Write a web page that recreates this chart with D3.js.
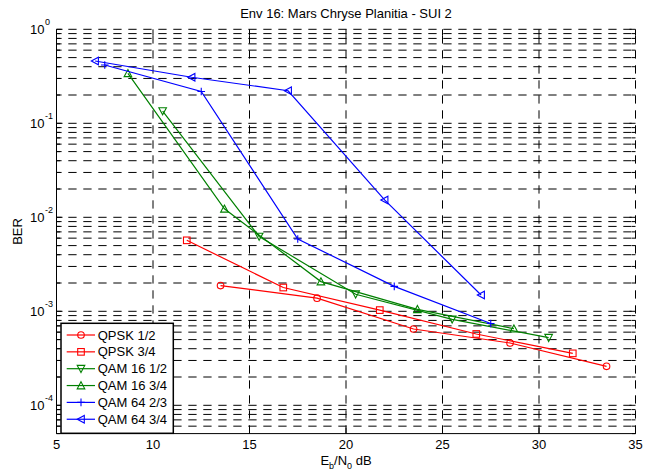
<!DOCTYPE html>
<html>
<head>
<meta charset="utf-8">
<script src="https://cdn.jsdelivr.net/npm/d3@7"></script>
<style>
  html, body { margin: 0; padding: 0; background: #fff; }
  svg { display: block; font-family: "Liberation Sans", Arial, sans-serif; }
</style>
</head>
<body>
<svg id="chart" width="657" height="472"></svg>
<script>
// BER curves per modulation / coding rate
const seriesNames = ["QPSK 1/2", "QPSK 3/4", "QAM 16 1/2", "QAM 16 3/4", "QAM 64 2/3", "QAM 64 3/4"];
const seriesColors = ["#ff0000", "#ff0000", "#008000", "#008000", "#0000ff", "#0000ff"];
const seriesMarkers = ["circle", "square", "triangleDown", "triangleUp", "plus", "triangleLeft"];

const qpsk12Eb = [13.5, 18.5, 23.5, 28.5, 33.5];
const qpsk12Ber = [0.00188, 0.00138, 0.000648, 0.00046, 0.00026];
const qpsk34Eb = [11.75, 16.75, 21.75, 26.75, 31.75];
const qpsk34Ber = [0.00569, 0.00179, 0.00103, 0.000574, 0.000357];
const qam16r12Eb = [10.5, 15.5, 20.5, 25.5, 30.5];
const qam16r12Ber = [0.135, 0.00625, 0.00152, 0.000822, 0.000524];
const qam16r34Eb = [8.7, 13.7, 18.7, 23.7, 28.7];
const qam16r34Ber = [0.34, 0.0123, 0.00207, 0.00105, 0.000653];
const qam64r23Eb = [7.5, 12.5, 17.5, 22.5, 27.5];
const qam64r23Ber = [0.417, 0.218, 0.00588, 0.00184, 0.000742];
const qam64r34Eb = [7, 12, 17, 22, 27];
const qam64r34Ber = [0.46, 0.309, 0.222, 0.0153, 0.00149];

const xTicks = [5, 10, 15, 20, 25, 30, 35];
const yTickExponents = [0, -1, -2, -3, -4];
const xDomain = [5, 35];
const yDomain = [5e-5, 1];

const titleText = "Env 16: Mars Chryse Planitia - SUI 2";

const seriesEb = [qpsk12Eb, qpsk34Eb, qam16r12Eb, qam16r34Eb, qam64r23Eb, qam64r34Eb];
const seriesBer = [qpsk12Ber, qpsk34Ber, qam16r12Ber, qam16r34Ber, qam64r23Ber, qam64r34Ber];
const series = seriesNames.map((name, i) => ({
  name, color: seriesColors[i], marker: seriesMarkers[i],
  points: seriesEb[i].map((e, j) => ({ eb: e, ber: seriesBer[i][j] }))
}));

const svg = d3.select("#chart");
const plot = { left: 56.5, right: 635.5, top: 29.3, bottom: 433.6 };

const x = d3.scaleLinear().domain(xDomain).range([plot.left, plot.right]);
const y = d3.scaleLog().domain(yDomain).range([plot.bottom, plot.top]);

// every y grid value: 1..9 multiples of each decade inside the domain
const yGrid = [];
for (let e = -5; e <= 0; e++) {
  for (let m = 1; m <= 9; m++) {
    const v = m * Math.pow(10, e);
    if (v >= yDomain[0] * 0.999 && v <= yDomain[1] * 1.001) yGrid.push(v);
  }
}
const isMajor = v => Math.abs(Math.log10(v) - Math.round(Math.log10(v))) < 1e-9;

// dashed grid
const grid = svg.append("g").attr("stroke", "#000").attr("stroke-width", 1).attr("fill", "none");
grid.selectAll("line.h").data(yGrid.filter(v => v > yDomain[0] * 1.001)).join("line")
  .attr("class", "h")
  .attr("stroke-dasharray", "8.3,6.7").attr("stroke-dashoffset", 3.2)
  .attr("x1", plot.left).attr("x2", plot.right)
  .attr("y1", d => y(d)).attr("y2", d => y(d));
grid.selectAll("line.v").data(xTicks.filter(t => t > xDomain[0])).join("line")
  .attr("class", "v")
  .attr("stroke-dasharray", "8.3,6.7")
  .attr("x1", d => x(d)).attr("x2", d => x(d))
  .attr("y1", plot.bottom).attr("y2", plot.top);

// ticks: inward on all four sides
const ticks = svg.append("g").attr("stroke", "#000").attr("stroke-width", 1);
yGrid.forEach(v => {
  const len = isMajor(v) ? 6 : 3.5;
  ticks.append("line").attr("x1", plot.left).attr("x2", plot.left + len).attr("y1", y(v)).attr("y2", y(v));
  ticks.append("line").attr("x1", plot.right).attr("x2", plot.right - len).attr("y1", y(v)).attr("y2", y(v));
});
xTicks.forEach(t => {
  ticks.append("line").attr("x1", x(t)).attr("x2", x(t)).attr("y1", plot.bottom).attr("y2", plot.bottom - 6);
  ticks.append("line").attr("x1", x(t)).attr("x2", x(t)).attr("y1", plot.top).attr("y2", plot.top + 6);
});

// solid left and bottom axis lines
svg.append("line").attr("x1", plot.left).attr("x2", plot.left).attr("y1", plot.top).attr("y2", plot.bottom)
  .attr("stroke", "#000").attr("stroke-width", 1);
svg.append("line").attr("x1", plot.left).attr("x2", plot.right).attr("y1", plot.bottom).attr("y2", plot.bottom)
  .attr("stroke", "#000").attr("stroke-width", 1);

// x tick labels
svg.append("g").selectAll("text").data(xTicks).join("text")
  .attr("x", d => x(d)).attr("y", plot.bottom + 15.5)
  .attr("text-anchor", "middle").attr("font-size", 13).attr("fill", "#000")
  .text(d => d);

// y tick labels as 10 with superscript exponent
const yLab = svg.append("g").attr("font-size", 13).attr("fill", "#000");
yTickExponents.forEach(e => {
  const t = yLab.append("text").attr("x", 30).attr("y", y(Math.pow(10, e)) + 4.5);
  t.append("tspan").text("10");
  t.append("tspan").attr("font-size", 9).attr("dy", -9).attr("dx", 0.5).text(e);
});

// title and axis labels
svg.append("text").attr("x", (plot.left + plot.right) / 2).attr("y", 18.3)
  .attr("text-anchor", "middle").attr("font-size", 13).text(titleText);

const xl = svg.append("text").attr("x", (plot.left + plot.right) / 2).attr("y", 464.5)
  .attr("text-anchor", "middle").attr("font-size", 13);
xl.append("tspan").text("E");
xl.append("tspan").attr("font-size", 9).attr("dy", 4).text("b");
xl.append("tspan").attr("dy", -4).text("/N");
xl.append("tspan").attr("font-size", 9).attr("dy", 4).text("0");
xl.append("tspan").attr("dy", -4).text(" dB");

svg.append("text")
  .attr("transform", `translate(22,${(plot.top + plot.bottom) / 2}) rotate(-90)`)
  .attr("text-anchor", "middle").attr("font-size", 13).text("BER");

// marker shapes
function drawMarker(g, type, cx, cy, color) {
  const s = 3.3;
  let el;
  switch (type) {
    case "circle":
      el = g.append("circle").attr("cx", cx).attr("cy", cy).attr("r", s); break;
    case "square":
      el = g.append("rect").attr("x", cx - s).attr("y", cy - s).attr("width", 2 * s).attr("height", 2 * s); break;
    case "triangleUp":
      el = g.append("path").attr("d", `M${cx},${cy - s - 0.5}L${cx + s + 0.5},${cy + s}L${cx - s - 0.5},${cy + s}Z`); break;
    case "triangleDown":
      el = g.append("path").attr("d", `M${cx},${cy + s + 0.5}L${cx + s + 0.5},${cy - s}L${cx - s - 0.5},${cy - s}Z`); break;
    case "triangleLeft":
      el = g.append("path").attr("d", `M${cx - s - 0.5},${cy}L${cx + s},${cy - s - 0.5}L${cx + s},${cy + s + 0.5}Z`); break;
    case "plus":
      el = g.append("path").attr("d", `M${cx - s - 0.5},${cy}H${cx + s + 0.5}M${cx},${cy - s - 0.5}V${cy + s + 0.5}`); break;
  }
  el.attr("fill", "none").attr("stroke", color).attr("stroke-width", 1.1);
}

const line = d3.line().x(d => x(d.eb)).y(d => y(d.ber));
const marks = svg.append("g");
series.forEach(s => {
  marks.append("path").datum(s.points).attr("d", line)
    .attr("fill", "none").attr("stroke", s.color).attr("stroke-width", 1.2);
  const mg = marks.append("g");
  s.points.forEach(p => drawMarker(mg, s.marker, x(p.eb), y(p.ber), s.color));
});

// legend, lower left
const lg = svg.append("g");
const lgBox = { x: 61, y: 323.3, w: 112.3, h: 110 };
lg.append("rect").attr("x", lgBox.x).attr("y", lgBox.y).attr("width", lgBox.w).attr("height", lgBox.h)
  .attr("fill", "#fff").attr("stroke", "#000").attr("stroke-width", 1.5);
series.forEach((s, i) => {
  const cy = 335 + i * 16.85;
  lg.append("line").attr("x1", 66.7).attr("x2", 95).attr("y1", cy).attr("y2", cy)
    .attr("stroke", s.color).attr("stroke-width", 1.2);
  drawMarker(lg, s.marker, 81, cy, s.color);
  lg.append("text").attr("x", 97.7).attr("y", cy + 4.6).attr("font-size", 13).text(s.name);
});
</script>
</body>
</html>
